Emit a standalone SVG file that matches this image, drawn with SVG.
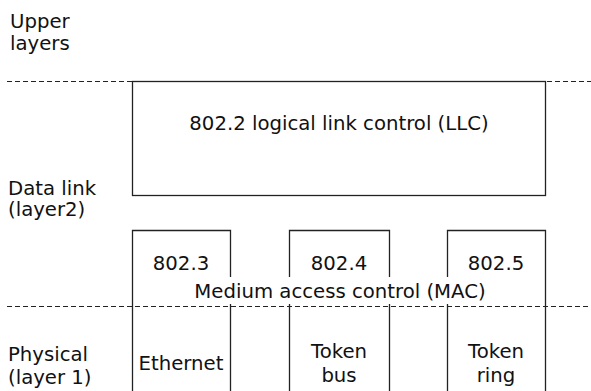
<svg xmlns="http://www.w3.org/2000/svg" width="591" height="391" viewBox="0 0 591 391">
<style>
text{font-family:"DejaVu Sans","Liberation Sans",sans-serif;font-size:19.7px;fill:#111}
.c{text-anchor:middle}
.box{fill:none;stroke:#222;stroke-width:1.3}
.dash{fill:none;stroke:#222;stroke-width:1.2;stroke-dasharray:5 3}
</style>
<rect width="591" height="391" fill="#fff"/>
<g id="layer-labels">
<text x="10" y="28">Upper</text>
<text x="10" y="50">layers</text>
<text x="8" y="195">Data link</text>
<text x="8" y="216">(layer2)</text>
<text x="8" y="361">Physical</text>
<text x="8" y="384">(layer 1)</text>
</g>
<g id="connectors">
<path class="dash" d="M7,81.5H132M547,81.5H591"/>
<path class="dash" d="M7,306.5H591"/>
</g>
<g id="llc">
<rect class="box" x="132.5" y="81.5" width="413" height="114"/>
<text class="c" x="339" y="130">802.2 logical link control (LLC)</text>
</g>
<g id="mac-8023">
<path class="box" d="M132.5,391V230.5H230.5V391"/>
<text class="c" x="181" y="270">802.3</text>
<text class="c" x="181" y="370">Ethernet</text>
</g>
<g id="mac-8024">
<path class="box" d="M289.5,391V230.5H389.5V391"/>
<text class="c" x="339" y="270">802.4</text>
<text class="c" x="339" y="358">Token</text>
<text class="c" x="339" y="382">bus</text>
</g>
<g id="mac-8025">
<path class="box" d="M447.5,391V230.5H545.5V391"/>
<text class="c" x="496" y="270">802.5</text>
<text class="c" x="496" y="358">Token</text>
<text class="c" x="496" y="382">ring</text>
</g>
<g id="mac-label">
<rect x="186" y="277" width="308" height="27" fill="#fff"/>
<text class="c" x="340" y="298">Medium access control (MAC)</text>
</g>
</svg>
